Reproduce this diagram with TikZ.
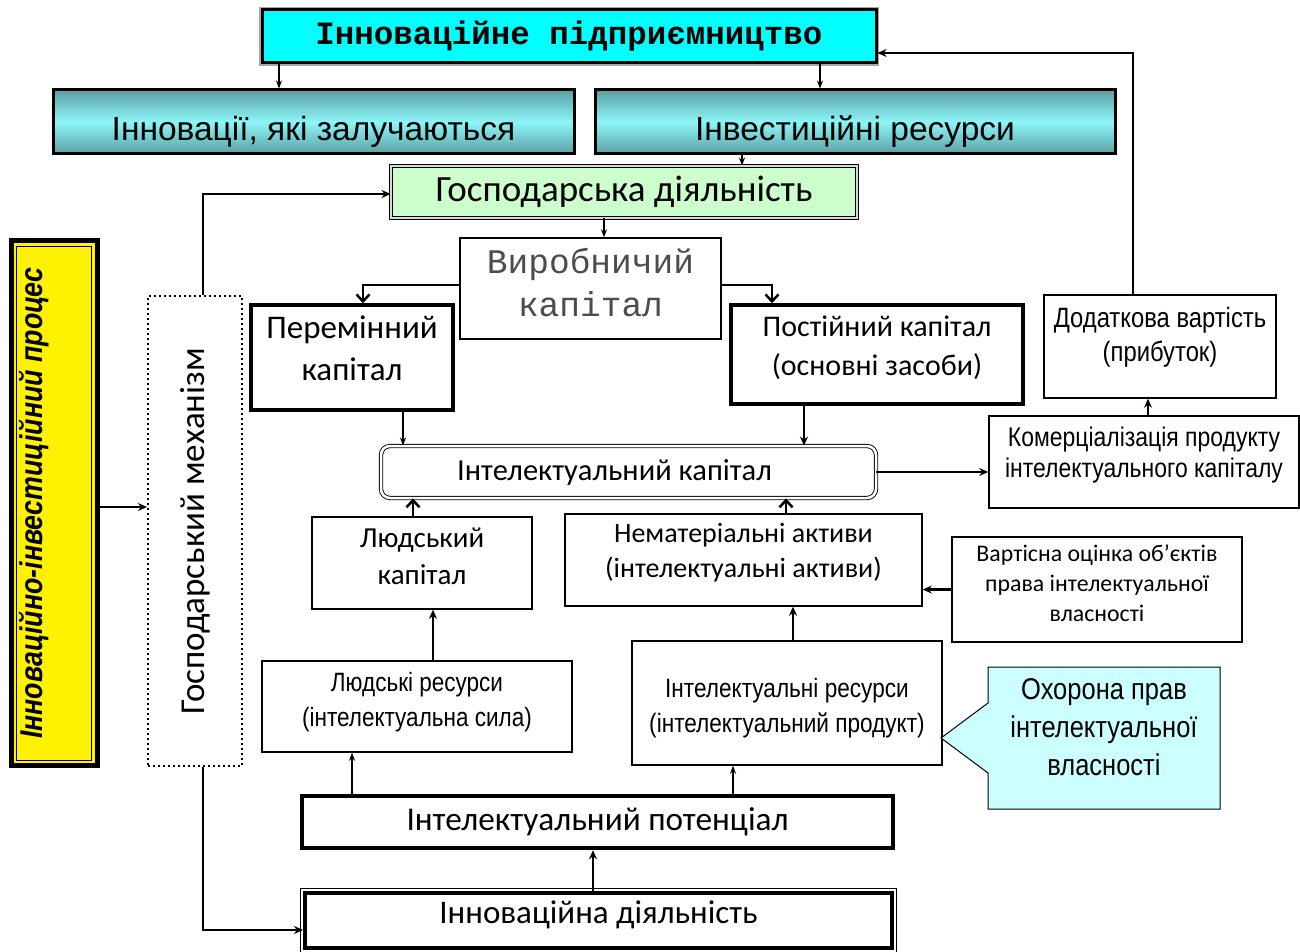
\documentclass[tikz,border=0pt]{standalone}
\usepackage{fontspec}
\setmainfont{Carlito}
\newfontfamily\arialfont{Liberation Sans}
\newfontfamily\narrowfont[FakeStretch=0.85]{Liberation Sans}
\newfontfamily\courfont{Liberation Mono}
\usetikzlibrary{arrows.meta,shapes.callouts}

\definecolor{tealdark}{HTML}{5B9FA2}
\definecolor{teallight}{HTML}{8DF6F8}
\definecolor{titlecyan}{HTML}{00FFFF}
\definecolor{mintgreen}{HTML}{CCFFCC}
\definecolor{palecyan}{HTML}{CCFFFF}

\newcommand{\setfs}[2]{\fontsize{#1}{#2}\selectfont}
% invisible struts that move a node text up or down
\newcommand{\txtup}[1]{\rule[-#1pt]{0pt}{0pt}}
\newcommand{\txtdown}[1]{\rule{0pt}{#1pt}}

\tikzset{
  box/.style={draw, line width=1.5pt, align=center, inner sep=0pt},
  boldbox/.style={box, line width=3.5pt},
  wh/.style 2 args={minimum width=#1pt, minimum height=#2pt},
  arr/.style={line width=2.5pt, -{Stealth[length=9pt,width=8pt]}},
  thinarr/.style={line width=1.3pt, -{Stealth[length=8pt,width=6pt]}},
  barb/.style={line width=2.5pt, -{Straight Barb[length=7pt,width=13pt]}},
}

\begin{document}
\begin{tikzpicture}[x=1pt,y=-1pt]
\useasboundingbox (0,0) rectangle (1300,952);

% top row
\node[box, line width=3pt, fill=titlecyan, wh={614}{53}, preaction={draw=gray!70, line width=6pt}, font=\courfont\bfseries\setfs{32.5}{38}] (title) at (569,36.5) {Інноваційне підприємництво};
\node[box, line width=3pt, top color=tealdark, bottom color=tealdark, middle color=teallight, wh={521}{64}, font=\arialfont\setfs{33.5}{40}] (inn) at (313.5,122) {\txtdown{43}Інновації, які залучаються};
\node[box, line width=3pt, top color=tealdark, bottom color=tealdark, middle color=teallight, wh={520}{64}, font=\arialfont\setfs{33.5}{40}] (invest) at (855,122) {\txtdown{43}Інвестиційні ресурси};
\node[box, line width=0.9pt, double=gray!30, double distance=2.5pt, fill=mintgreen, wh={466}{52}, font=\setfs{37}{42}] (gosp) at (624,192) {Господарська діяльність};

% capital
\node[box, wh={261}{101}, font=\courfont\setfs{34.5}{43}, text=black!70] (vyrob) at (590.5,288.5) {Виробничий\\капітал\txtup{12}};
\node[boldbox, wh={202}{105}, font=\setfs{33}{42}] (perem) at (352,357.5) {Перемінний\\капітал\txtup{18}};
\node[boldbox, wh={292}{99}, font=\setfs{30}{39}] (post) at (877,354.5) {Постійний капітал\\(основні засоби)\txtup{17}};
\node[box, wh={232}{103}, font=\narrowfont\setfs{28}{34}] (dodat) at (1160,346.5) {Додаткова вартість\\(прибуток)\txtup{24}};
\node[box, wh={310}{92}, font=\narrowfont\setfs{27}{31}] (komer) at (1144,462) {Комерціалізація продукту\\інтелектуального капіталу\txtup{20}};
\node[box, line width=0.9pt, double, double distance=2.5pt, rounded corners=9pt, wh={495}{52}, font=\setfs{30.5}{36}] (intcap) at (628.5,472) {Інтелектуальний капітал\kern28pt};

% intellectual
\node[box, wh={220}{92}, font=\setfs{29}{37}] (ludcap) at (422,563) {Людський\\капітал\txtup{14}};
\node[box, wh={357}{92}, font=\setfs{28}{35}] (nemat) at (743.5,560) {Нематеріальні активи\\(інтелектуальні активи)\txtup{20}};
\node[box, wh={290}{105}, font=\setfs{23.8}{30}] (vart) at (1097,589.5) {Вартісна оцінка об’єктів\\права інтелектуальної\\власності\txtup{13}};
\node[box, wh={310}{91}, font=\narrowfont\setfs{26.5}{35}] (ludres) at (417,706.5) {Людські ресурси\\(інтелектуальна сила)\txtup{13.5}};
\node[box, wh={310}{124}, font=\narrowfont\setfs{26.6}{35}] (intres) at (787,703) {\txtdown{30.5}Інтелектуальні ресурси\\(інтелектуальний продукт)};
\coordinate (tip) at (941,738);
\node[rectangle callout, draw, line width=1pt, fill=palecyan, align=center, inner sep=0pt, wh={232}{142}, callout absolute pointer={(tip)}, callout pointer width=70pt, font=\narrowfont\setfs{30}{38}] (okh) at (1104,738) {Охорона прав\\інтелектуальної\\власності\txtup{21}};
\node[box, line width=4.5pt, wh={591}{52}, font=\setfs{33.3}{40}] (potent) at (597.5,822) {Інтелектуальний потенціал};
\node[box, line width=4pt, wh={587}{55}, font=\setfs{33}{38}] (innd) at (598.5,920.5) {Інноваційна діяльність\txtup{16.5}};
\draw[line width=1pt] ([xshift=-2.5pt,yshift=2.5pt]innd.north west) rectangle ([xshift=2.5pt,yshift=-2.5pt]innd.south east);

% left column
\node[box, line width=5pt, fill=yellow, wh={86}{525}] (proc) at (54,503) {\rotatebox{90}{\narrowfont\bfseries\itshape\setfs{31.5}{36}\rule[-47pt]{0pt}{1pt}Інноваційно-інвестиційний процес}};
\draw[line width=1pt] ([xshift=8pt,yshift=-8pt]proc.north west) rectangle ([xshift=-8pt,yshift=8pt]proc.south east);
\node[box, line width=2pt, dash pattern=on 2pt off 3pt, wh={94}{470}] (mech) at (195,531) {\rotatebox{90}{\setfs{35}{40}Господарський механізм}};

% connectors
\draw[thinarr, line width=2pt] ([xshift=-290pt]title.south) -- ([xshift=-290pt]title.south |- inn.north);
\draw[thinarr, line width=2pt] ([xshift=251pt]title.south) -- ([xshift=251pt]title.south |- invest.north);
\draw[thinarr] ([xshift=-113pt]invest.south) -- ([xshift=-113pt]invest.south |- gosp.north);
\draw[thinarr, line width=2pt] ([xshift=-20pt]gosp.south) -- ([xshift=-20pt]gosp.south |- vyrob.north);
\draw[barb] ([yshift=3.5pt]vyrob.west) -| ([xshift=11pt]perem.north);
\draw[barb] ([yshift=3.5pt]vyrob.east) -| ([xshift=-105pt]post.north);
\draw[thinarr] ([xshift=51pt]perem.south) -- ([xshift=51pt]perem.south |- intcap.north);
\draw[arr] ([xshift=-73pt]post.south) -- ([xshift=-73pt]post.south |- intcap.north);
\draw[arr] (intcap.east) -- (intcap.east -| komer.west);
\draw[arr] ([xshift=4pt]komer.north) -- ([xshift=4pt]komer.north |- dodat.south);
\draw[arr] ([xshift=-27pt]dodat.north) |- ([yshift=-16.5pt]title.east);
\draw[barb] ([xshift=-9pt]ludcap.north) -- ([xshift=-9pt]ludcap.north |- intcap.south);
\draw[barb] ([xshift=42.5pt]nemat.north) -- ([xshift=42.5pt]nemat.north |- intcap.south);
\draw[arr] ([xshift=16pt]ludres.north) -- ([xshift=16pt]ludres.north |- ludcap.south);
\draw[arr] ([xshift=6pt]intres.north) -- ([xshift=6pt]intres.north |- nemat.south);
\draw[arr] (vart.west) -- (vart.west -| nemat.east);
\draw[thinarr, line width=2pt] ([xshift=-245.5pt]potent.north) -- ([xshift=-245.5pt]potent.north |- ludres.south);
\draw[thinarr, line width=2pt] ([xshift=135.5pt]potent.north) -- ([xshift=135.5pt]potent.north |- intres.south);
\draw[arr] ([xshift=-5.5pt]innd.north) -- ([xshift=-5.5pt]innd.north |- potent.south);
\draw[arr] ([yshift=-4pt]proc.east) -- ([yshift=-4pt]proc.east -| mech.west);
\draw[arr] ([xshift=8pt]mech.north) |- ([yshift=-2pt]gosp.west);
\draw[arr] ([xshift=8pt]mech.south) |- ([yshift=-9.5pt]innd.west);
\end{tikzpicture}
\end{document}
